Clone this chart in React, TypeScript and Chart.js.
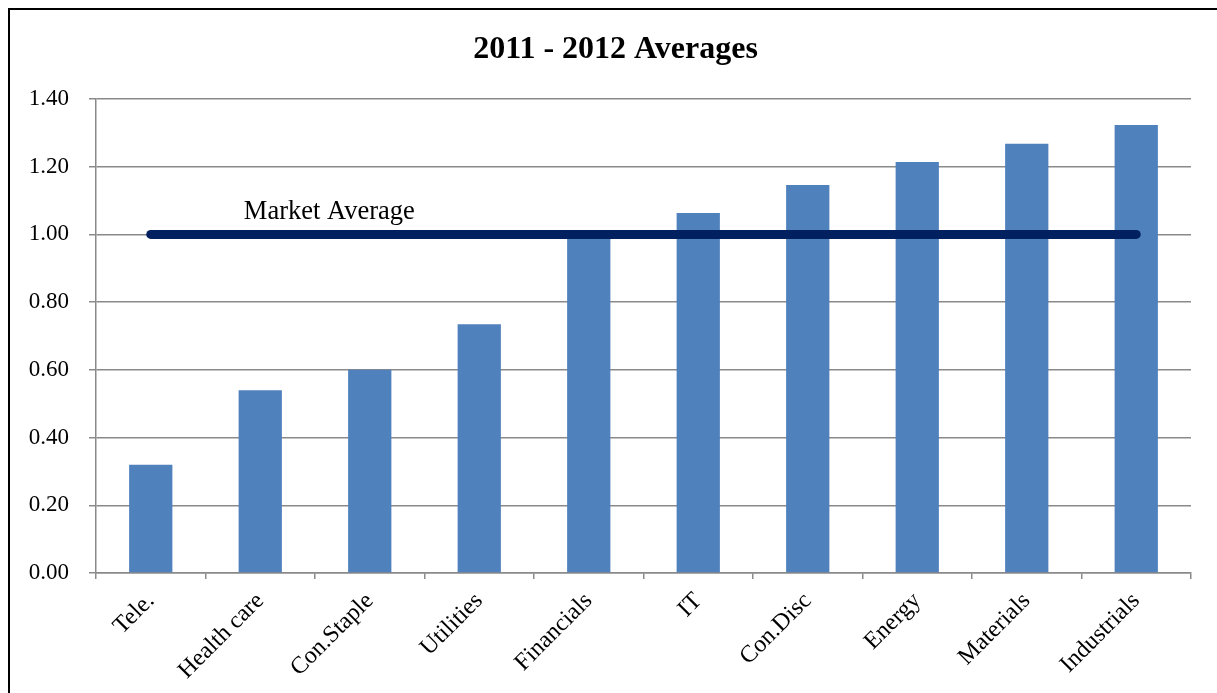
import React, { useEffect, useRef } from 'react';
import { Chart, registerables } from 'chart.js';

Chart.register(...registerables);

const categories = ['Tele.', 'Health care', 'Con.Staple', 'Utilities', 'Financials', 'IT', 'Con.Disc', 'Energy', 'Materials', 'Industrials'];
const averages = [0.32, 0.54, 0.6, 0.735, 1.0, 1.063, 1.146, 1.214, 1.268, 1.323];
const marketAverage = [1.0, 1.0, 1.0, 1.0, 1.0, 1.0, 1.0, 1.0, 1.0, 1.0];
const marketLabel = 'Market Average';
const chartTitle = '2011 - 2012 Averages';
const yMin = 0;
const yMax = 1.4;
const yStep = 0.2;

const FONT = "'Liberation Serif', 'Times New Roman', serif";
const GRID = '#8a8a8a';

export default function App() {
  const ref = useRef<HTMLCanvasElement | null>(null);

  useEffect(() => {
    document.documentElement.style.overflow = 'hidden';
    document.body.style.overflow = 'hidden';
    if (!ref.current) return;
    const labelPlugin = {
      id: 'marketLabel',
      afterDatasetsDraw(chart: any) {
        const { ctx, scales } = chart;
        const x = scales.x.getPixelForValue(0.85);
        const y = scales.y.getPixelForValue(1.065);
        ctx.save();
        ctx.font = `26.5px ${FONT}`;
        ctx.fillStyle = '#000';
        ctx.textAlign = 'left';
        ctx.textBaseline = 'middle';
        ctx.fillText(marketLabel, x, y);
        // title, centred on the whole frame
        ctx.font = `bold 32px ${FONT}`;
        ctx.textAlign = 'center';
        ctx.fillText(chartTitle, chart.width / 2, 40);
        ctx.restore();
      },
    };
    const chart = new Chart(ref.current, {
      type: 'bar',
      data: {
        labels: categories,
        datasets: [
          {
            type: 'line',
            label: marketLabel,
            data: marketAverage,
            borderColor: '#002060',
            borderWidth: 9,
            borderCapStyle: 'round',
            pointRadius: 0,
            fill: false,
            order: 0,
          } as any,
          {
            type: 'bar',
            label: 'Averages',
            data: averages,
            backgroundColor: '#4F81BD',
            borderWidth: 0,
            categoryPercentage: 1,
            barPercentage: 0.395,
            order: 1,
          },
        ],
      },
      options: {
        responsive: false,
        animation: false,
        layout: { padding: { left: 0, right: 30, top: 89, bottom: 0 } },
        plugins: {
          legend: { display: false },
          tooltip: { enabled: false },
          title: { display: false },
        },
        scales: {
          x: {
            grid: {
              offset: true,
              drawOnChartArea: false,
              drawTicks: true,
              tickLength: 6,
              color: GRID,
              lineWidth: 1.5,
            },
            border: { display: true, color: GRID, width: 1.5 },
            ticks: {
              color: '#000',
              font: { family: FONT, size: 24 },
              minRotation: 45,
              maxRotation: 45,
              padding: 8,
              autoSkip: false,
            },
            afterFit: (scale: any) => {
              scale.height = 137;
            },
          },
          y: {
            min: yMin,
            max: yMax,
            grid: {
              color: GRID,
              lineWidth: 1.5,
              tickLength: 7,
              drawTicks: true,
            },
            border: { display: true, color: GRID, width: 1.5 },
            ticks: {
              stepSize: yStep,
              color: '#000',
              font: { family: FONT, size: 23 },
              padding: 20,
              callback: (v: any) => Number(v).toFixed(2),
            },
            afterFit: (scale: any) => {
              scale.width = 86;
            },
          },
        },
      },
      plugins: [labelPlugin],
    });
    return () => chart.destroy();
  }, []);

  return (
    <div
      style={{
        position: 'fixed',
        left: 8,
        top: 8,
        width: 1211,
        height: 700,
        border: '2px solid #000',
        background: '#fff',
      }}
    >
      <canvas ref={ref} width={1211} height={700} style={{ display: 'block' }} />
    </div>
  );
}
